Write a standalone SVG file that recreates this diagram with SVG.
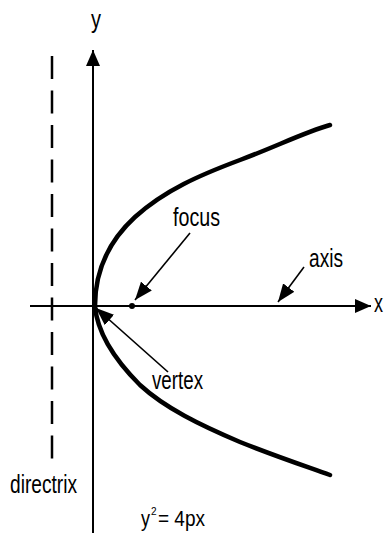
<svg xmlns="http://www.w3.org/2000/svg" width="385" height="533" viewBox="0 0 385 533">
<style>
text{font-family:"Liberation Sans",Arial,sans-serif;font-size:25px;fill:#000}
.ax{stroke:#000;stroke-width:2;fill:none}
.curve{stroke:#000;stroke-width:4.5;fill:none;stroke-linecap:round}
.lead{stroke:#000;stroke-width:1.6;fill:none}
</style>
<defs>
<marker id="big" viewBox="0 0 16 14" refX="16" refY="7" markerWidth="16" markerHeight="14" markerUnits="userSpaceOnUse" orient="auto">
<path d="M0,0 L16,7 L0,14 Z" fill="#000"/>
</marker>
<marker id="lead" viewBox="0 0 18 14" refX="18" refY="7" markerWidth="18" markerHeight="14" markerUnits="userSpaceOnUse" orient="auto">
<path d="M0,0 L18,7 L0,14 Z" fill="#000"/>
</marker>
</defs>
<g id="axes">
<line class="ax" x1="93" y1="533" x2="93" y2="50" marker-end="url(#big)"/>
<line class="ax" x1="30" y1="306" x2="371" y2="306" marker-end="url(#big)"/>
<line x1="52" y1="56" x2="52" y2="462" stroke="#000" stroke-width="2.5" stroke-dasharray="23 11.5"/>
</g>
<g id="parabola">
<path class="curve" d="M95,306 C95,270 110,240 135,217 C165,190 200,175 240,160 C275,147 305,132 330,125"/>
<path class="curve" d="M95,306 C97,330 110,355 140,385 C165,408 200,425 240,442 C275,456 305,466 330,475"/>
</g>
<g id="connectors">
<line class="lead" x1="190" y1="233" x2="135" y2="300" marker-end="url(#lead)"/>
<circle cx="132" cy="306" r="3" fill="#000"/>
<line class="lead" x1="304" y1="267" x2="278" y2="302" marker-end="url(#lead)"/>
<line class="lead" x1="168" y1="372" x2="96" y2="308" marker-end="url(#lead)"/>
</g>
<g id="labels">
<text id="label-y" x="91" y="28" textLength="10" lengthAdjust="spacingAndGlyphs">y</text>
<text id="label-focus" x="173" y="226" textLength="47" lengthAdjust="spacingAndGlyphs">focus</text>
<text id="label-axis" x="309" y="267" textLength="34" lengthAdjust="spacingAndGlyphs">axis</text>
<text id="label-x" x="374" y="312" textLength="9" lengthAdjust="spacingAndGlyphs">x</text>
<text id="label-vertex" x="152" y="389" textLength="51" lengthAdjust="spacingAndGlyphs">vertex</text>
<text id="label-directrix" x="10" y="493" textLength="67" lengthAdjust="spacingAndGlyphs">directrix</text>
<g id="equation">
<text x="141" y="526" style="font-size:22px" textLength="9" lengthAdjust="spacingAndGlyphs">y</text>
<text x="151" y="515" style="font-size:10px">2</text>
<text x="158" y="526" style="font-size:22px" textLength="47" lengthAdjust="spacingAndGlyphs">= 4px</text>
</g>
</g>
</svg>
